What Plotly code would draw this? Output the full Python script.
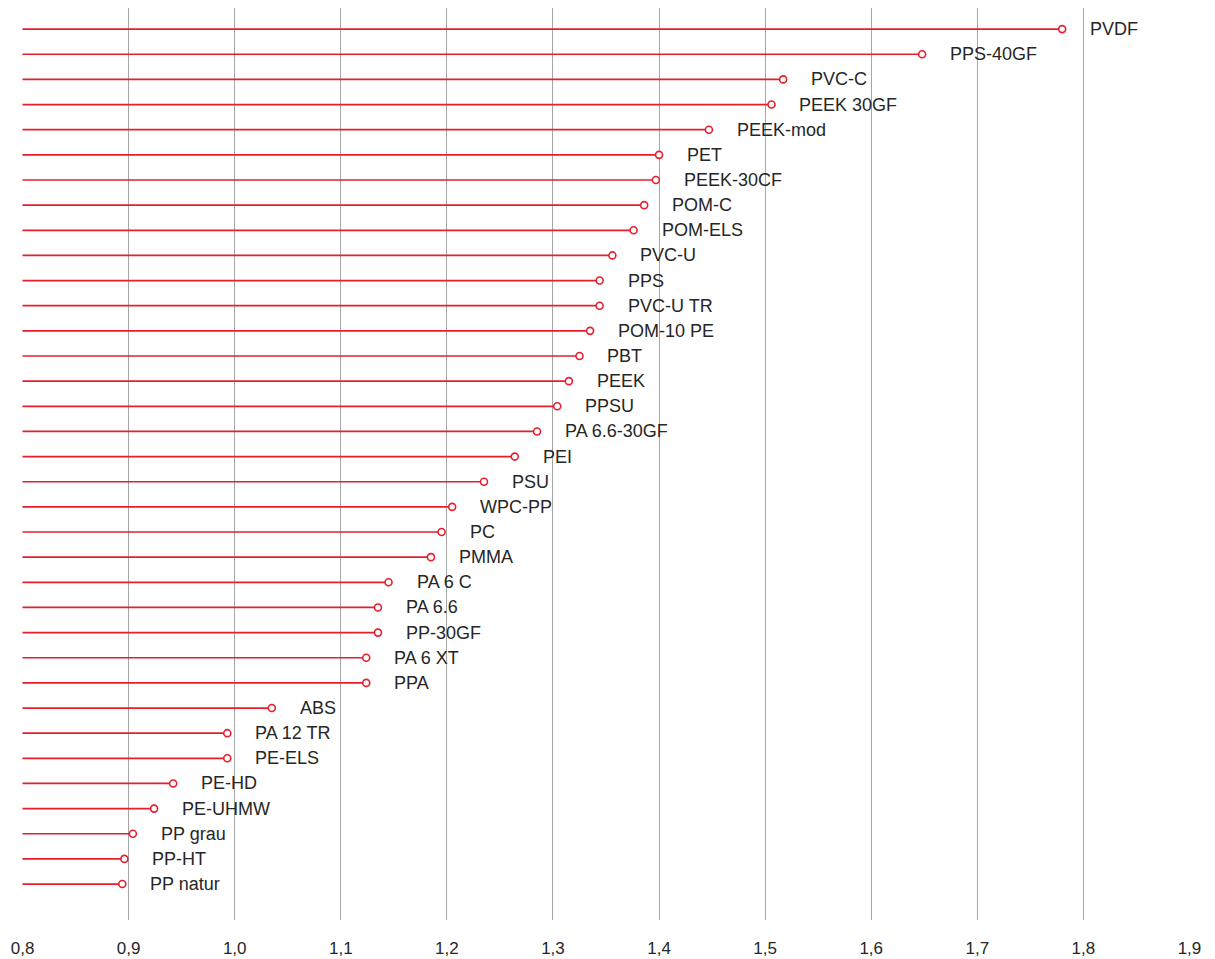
import plotly.graph_objects as go

# Werkstoffe und Dichte (g/cm³), von oben nach unten
materials = [
    "PVDF", "PPS-40GF", "PVC-C", "PEEK 30GF", "PEEK-mod", "PET", "PEEK-30CF",
    "POM-C", "POM-ELS", "PVC-U", "PPS", "PVC-U TR", "POM-10 PE", "PBT", "PEEK",
    "PPSU", "PA 6.6-30GF", "PEI", "PSU", "WPC-PP", "PC", "PMMA", "PA 6 C",
    "PA 6.6", "PP-30GF", "PA 6 XT", "PPA", "ABS", "PA 12 TR", "PE-ELS",
    "PE-HD", "PE-UHMW", "PP grau", "PP-HT", "PP natur",
]
density = [
    1.78, 1.648, 1.517, 1.506, 1.447, 1.40, 1.397,
    1.386, 1.376, 1.356, 1.344, 1.344, 1.335, 1.325, 1.315,
    1.304, 1.285, 1.264, 1.235, 1.205, 1.195, 1.185, 1.145,
    1.135, 1.135, 1.124, 1.124, 1.035, 0.993, 0.993,
    0.942, 0.924, 0.904, 0.896, 0.894,
]
x_ticks = [0.8, 0.9, 1.0, 1.1, 1.2, 1.3, 1.4, 1.5, 1.6, 1.7, 1.8, 1.9]
x_tick_labels = [f"{t:.1f}".replace(".", ",") for t in x_ticks]

x_start = 0.8
red = "#e61e2d"

# Stiele: je eine Linie von 0,8 bis zum Wert
line_x, line_y = [], []
for m, v in zip(materials, density):
    line_x += [x_start, v, None]
    line_y += [m, m, None]

fig = go.Figure()
fig.add_trace(go.Scatter(
    x=line_x, y=line_y, mode="lines",
    line=dict(color=red, width=1.7),
    hoverinfo="skip", showlegend=False,
))
fig.add_trace(go.Scatter(
    x=density, y=materials, mode="markers",
    marker=dict(symbol="circle", size=7, color="white",
                line=dict(color=red, width=1.6)),
    showlegend=False,
))

for m, v in zip(materials, density):
    fig.add_annotation(
        x=v, y=m, text=m, showarrow=False,
        xanchor="left", yanchor="middle", xshift=26,
        font=dict(family="Liberation Sans, Arial, sans-serif", size=18, color="#262626"),
    )

n = len(materials)
fig.update_layout(
    width=1215, height=959,
    margin=dict(l=22, r=25, t=8, b=39),
    paper_bgcolor="white", plot_bgcolor="white",
    font=dict(family="Liberation Sans, Arial, sans-serif", size=17, color="#262626"),
    xaxis=dict(
        range=[0.7995, 1.9005],
        tickvals=x_ticks, ticktext=x_tick_labels,
        showgrid=True, gridcolor="#a6a6a6", gridwidth=1,
        zeroline=False, showline=False,
        ticks="", ticklabelstandoff=16, automargin=False,
        tickfont=dict(size=17, color="#262626"),
    ),
    yaxis=dict(
        type="category",
        categoryorder="array", categoryarray=materials,
        range=[n - 1 + 1.43, -0.84],
        showticklabels=False, showgrid=False, zeroline=False, showline=False,
        ticks="", automargin=False,
    ),
)

fig.write_html("out.html")
